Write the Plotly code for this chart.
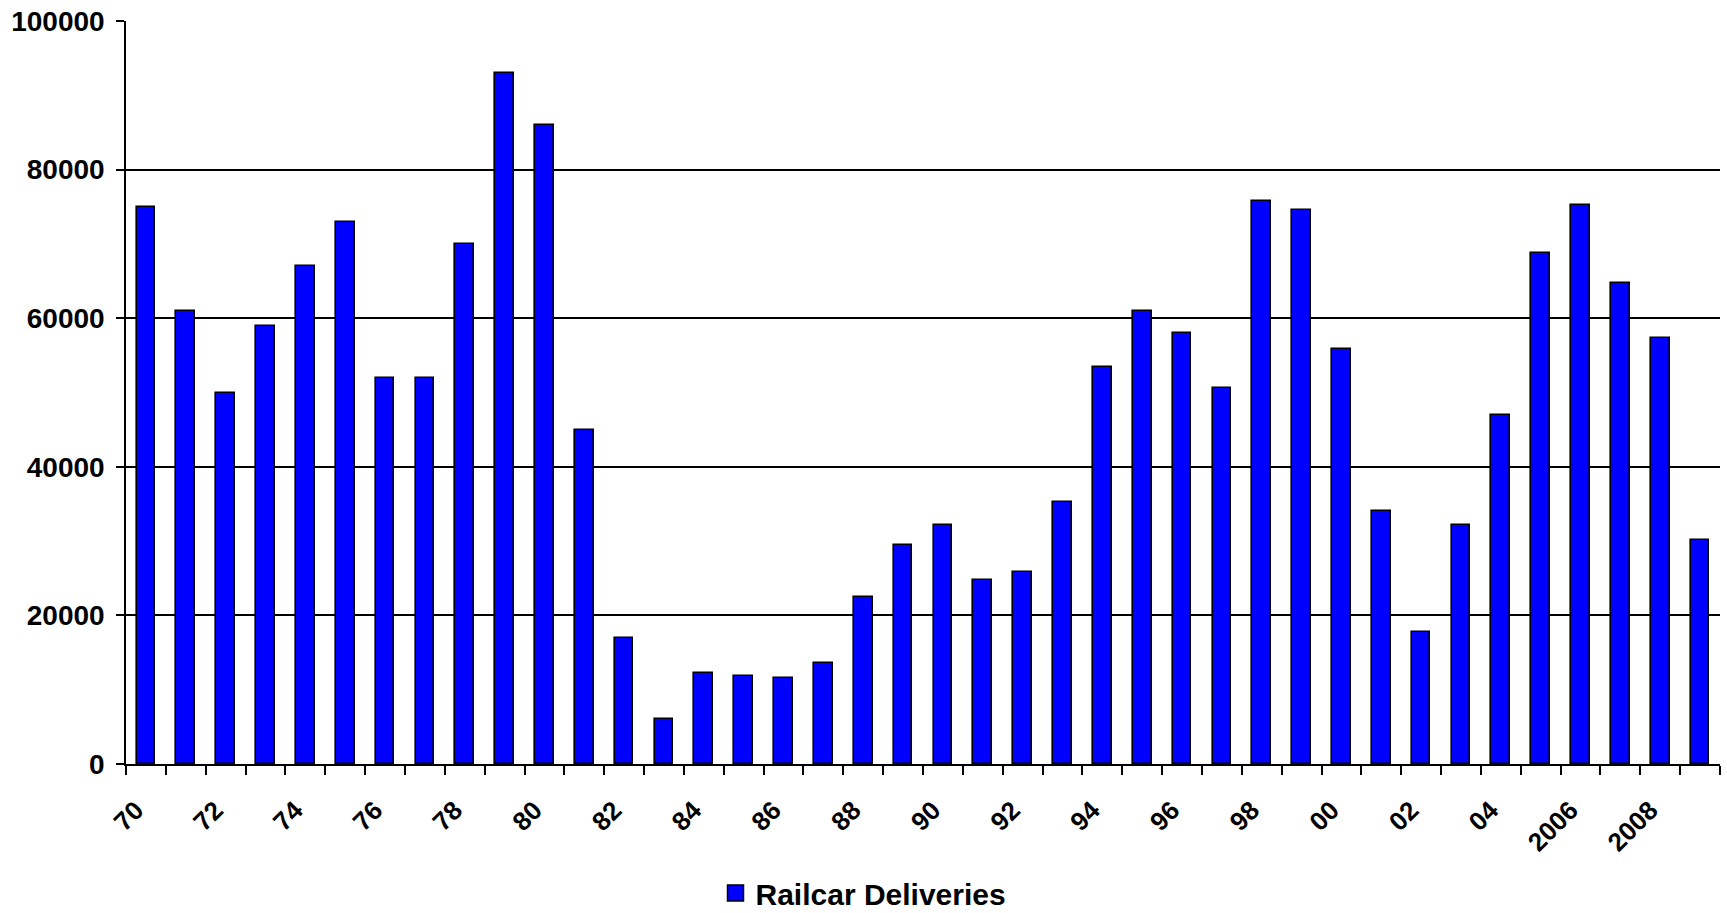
import plotly.graph_objects as go

# Annual railcar deliveries, 1970-2009
years = list(range(1970, 2010))
deliveries = [
    75000, 61000, 50000, 59000, 67000, 73000, 52000, 52000, 70000, 93000,
    86000, 45000, 17000, 6000, 12300, 11900, 11600, 13600, 22500, 29500,
    32200, 24800, 25800, 35200, 53400, 61000, 58000, 50600, 75800, 74500,
    55900, 34100, 17700, 32200, 47000, 68800, 75200, 64800, 57400, 30100,
]
label_years = list(range(1970, 2010, 2))
label_text = ["70", "72", "74", "76", "78", "80", "82", "84", "86", "88",
              "90", "92", "94", "96", "98", "00", "02", "04", "2006", "2008"]
y_ticks = [0, 20000, 40000, 60000, 80000, 100000]
y_text = ["0", "20000", "40000", "60000", "80000", "100000"]

BLUE = "#0000FF"
FONT = "Liberation Sans, Arial, sans-serif"

fig = go.Figure()
fig.add_trace(go.Bar(
    x=years, y=deliveries, width=0.47,
    marker=dict(color=BLUE, line=dict(color="black", width=1.6)),
    showlegend=False,
))
# legend entry with a larger square swatch
fig.add_trace(go.Scatter(
    x=[None], y=[None], mode="markers", name="Railcar Deliveries",
    marker=dict(symbol="square", size=20, color=BLUE,
                line=dict(color="black", width=1.5)),
))

fig.update_layout(
    width=1727, height=913,
    margin=dict(l=126, r=7, t=21, b=149, autoexpand=False),
    paper_bgcolor="white", plot_bgcolor="white",
    font=dict(family=FONT, color="black", weight="bold"),
    bargap=0,
    legend=dict(
        orientation="h", xref="container", yref="container",
        x=0.5, xanchor="center", y=0.022, yanchor="middle",
        font=dict(size=30, family=FONT, weight="bold"),
        itemsizing="trace",
    ),
    xaxis=dict(
        range=[1969.5, 2009.5],
        tickmode="array", tickvals=label_years, ticktext=label_text,
        tickangle=-45, tickfont=dict(size=26, family=FONT, weight="bold"),
        ticks="outside", ticklen=9, tickcolor="rgba(0,0,0,0)",
        ticklabelstandoff=10, ticklabelshift=-10,
        minor=dict(tickmode="linear", tick0=1969.5, dtick=1,
                   ticks="outside", ticklen=9, tickwidth=1.5,
                   tickcolor="black", showgrid=False),
        showgrid=False, zeroline=False,
        showline=True, linecolor="black", linewidth=1.5,
    ),
    yaxis=dict(
        range=[0, 100000],
        tickmode="array", tickvals=y_ticks, ticktext=y_text,
        tickfont=dict(size=28, family=FONT, weight="bold"),
        ticks="outside", ticklen=8, tickwidth=1.5, tickcolor="black",
        ticklabelstandoff=6,
        showgrid=True, gridcolor="black", gridwidth=1.5,
        zeroline=False, showline=True, linecolor="black", linewidth=1.5,
    ),
)

fig.write_html("out.html")
